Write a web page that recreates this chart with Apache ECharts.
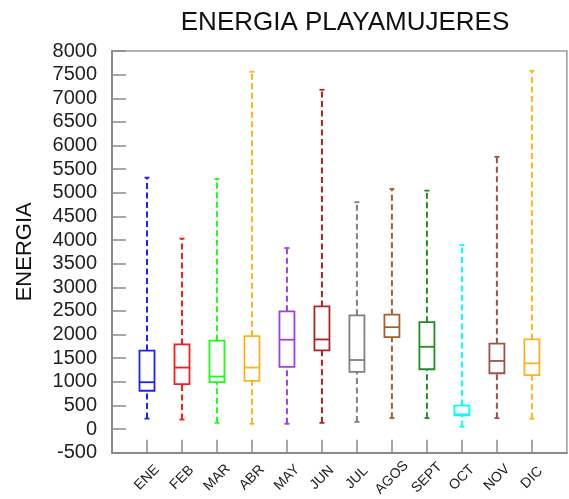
<!DOCTYPE html>
<html>
<head>
<meta charset="utf-8">
<script src="https://cdn.jsdelivr.net/npm/echarts@6/dist/echarts.min.js"></script>
<style>
  html, body { margin: 0; padding: 0; background: #fff; }
  #chart { width: 569px; height: 499px; }
</style>
</head>
<body>
<div id="chart"></div>
<script>
// Monthly energy distribution: min, Q1, median, Q3, max
const months = ['ENE', 'FEB', 'MAR', 'ABR', 'MAY', 'JUN', 'JUL', 'AGOS', 'SEPT', 'OCT', 'NOV', 'DIC'];
const minVals    = [220, 200, 130, 110, 110, 130, 150, 230, 230,  50, 230, 215];
const q1Vals     = [810, 950, 990, 1020, 1315, 1665, 1210, 1945, 1265, 290, 1180, 1140];
const medianVals = [990, 1300, 1110, 1300, 1890, 1895, 1460, 2155, 1740, 310, 1440, 1390];
const q3Vals     = [1660, 1790, 1870, 1965, 2490, 2595, 2405, 2420, 2260, 495, 1805, 1895];
const maxVals    = [5320, 4030, 5290, 7560, 3830, 7180, 4800, 5080, 5045, 3890, 5760, 7580];
const colors = ['#1f1fff', '#ff1a1a', '#1aff1a', '#ffb31a', '#a040e6', '#b22222',
                '#808080', '#a5602d', '#228b22', '#00ffff', '#a0524a', '#ffb31a'];

const yTicks = { min: -500, max: 8000, step: 500 };

// padded category list so the months sit on interior tick positions
const cats = [''].concat(months, ['']);
const data = months.map((m, i) => [i + 1, minVals[i], q1Vals[i], medianVals[i], q3Vals[i], maxVals[i]]);

const chart = echarts.init(document.getElementById('chart'));

function renderBox(params, api) {
  const idx = params.dataIndex;
  const x = api.value(0);
  const pMin = api.coord([x, api.value(1)]);
  const pQ1 = api.coord([x, api.value(2)]);
  const pMed = api.coord([x, api.value(3)]);
  const pQ3 = api.coord([x, api.value(4)]);
  const pMax = api.coord([x, api.value(5)]);
  const cx = pMin[0];
  const half = 7.5;
  const cap = 2.5;
  const c = colors[idx];
  const dashed = { stroke: c, lineWidth: 2, lineDash: [6, 3.5], fill: null };
  const solid = { stroke: c, lineWidth: 1.8, fill: null };
  return {
    type: 'group',
    children: [
      { type: 'line', shape: { x1: cx, y1: pQ3[1], x2: cx, y2: pMax[1] }, style: dashed },
      { type: 'line', shape: { x1: cx, y1: pMin[1], x2: cx, y2: pQ1[1] }, style: dashed },
      { type: 'line', shape: { x1: cx - cap, y1: pMax[1], x2: cx + cap, y2: pMax[1] }, style: solid },
      { type: 'line', shape: { x1: cx - cap, y1: pMin[1], x2: cx + cap, y2: pMin[1] }, style: solid },
      { type: 'rect', shape: { x: cx - half, y: pQ3[1], width: half * 2, height: pQ1[1] - pQ3[1] },
        style: { stroke: c, lineWidth: 1.8, fill: '#fff' } },
      { type: 'line', shape: { x1: cx - half, y1: pMed[1], x2: cx + half, y2: pMed[1] }, style: solid }
    ]
  };
}

chart.setOption({
  animation: false,
  backgroundColor: '#fff',
  title: {
    text: 'ENERGIA PLAYAMUJERES',
    left: 340,
    top: 5,
    textAlign: 'center',
    textStyle: { fontFamily: 'Liberation Sans', fontSize: 26, fontWeight: 'normal', color: '#111' }
  },
  grid: {
    left: 112, top: 51, right: 1, bottom: 43,
    show: true, borderColor: '#9a9a9a', borderWidth: 1.5, backgroundColor: 'transparent'
  },
  xAxis: {
    type: 'category',
    data: cats,
    boundaryGap: false,
    axisLine: { show: true, onZero: false, lineStyle: { color: '#8a8a8a', width: 2 } },
    axisTick: {
      show: true, inside: true, length: 13,
      interval: (i) => i >= 1 && i <= months.length,
      lineStyle: { color: '#8a8a8a', width: 1.5 }
    },
    axisLabel: {
      interval: 0, rotate: 45, align: 'center', verticalAlign: 'middle', margin: 25,
      fontFamily: 'Liberation Sans', fontSize: 14, color: '#222'
    },
    splitLine: { show: false }
  },
  yAxis: {
    type: 'value',
    min: yTicks.min, max: yTicks.max, interval: yTicks.step,
    name: 'ENERGIA',
    nameLocation: 'middle',
    nameRotate: 90,
    nameGap: 76,
    nameTextStyle: { fontFamily: 'Liberation Sans', fontSize: 22, color: '#111' },
    axisLine: { show: true, onZero: false, lineStyle: { color: '#8a8a8a', width: 2 } },
    axisTick: { show: true, inside: true, length: 14, lineStyle: { color: '#8a8a8a', width: 1.5 } },
    axisLabel: {
      margin: 15, fontFamily: 'Liberation Sans', fontSize: 20, color: '#222',
      formatter: (v) => String(v)
    },
    splitLine: { show: false }
  },
  series: [{
    type: 'custom',
    renderItem: renderBox,
    encode: { x: 0, y: [1, 2, 3, 4, 5] },
    data: data,
    clip: false
  }]
});
</script>
</body>
</html>
